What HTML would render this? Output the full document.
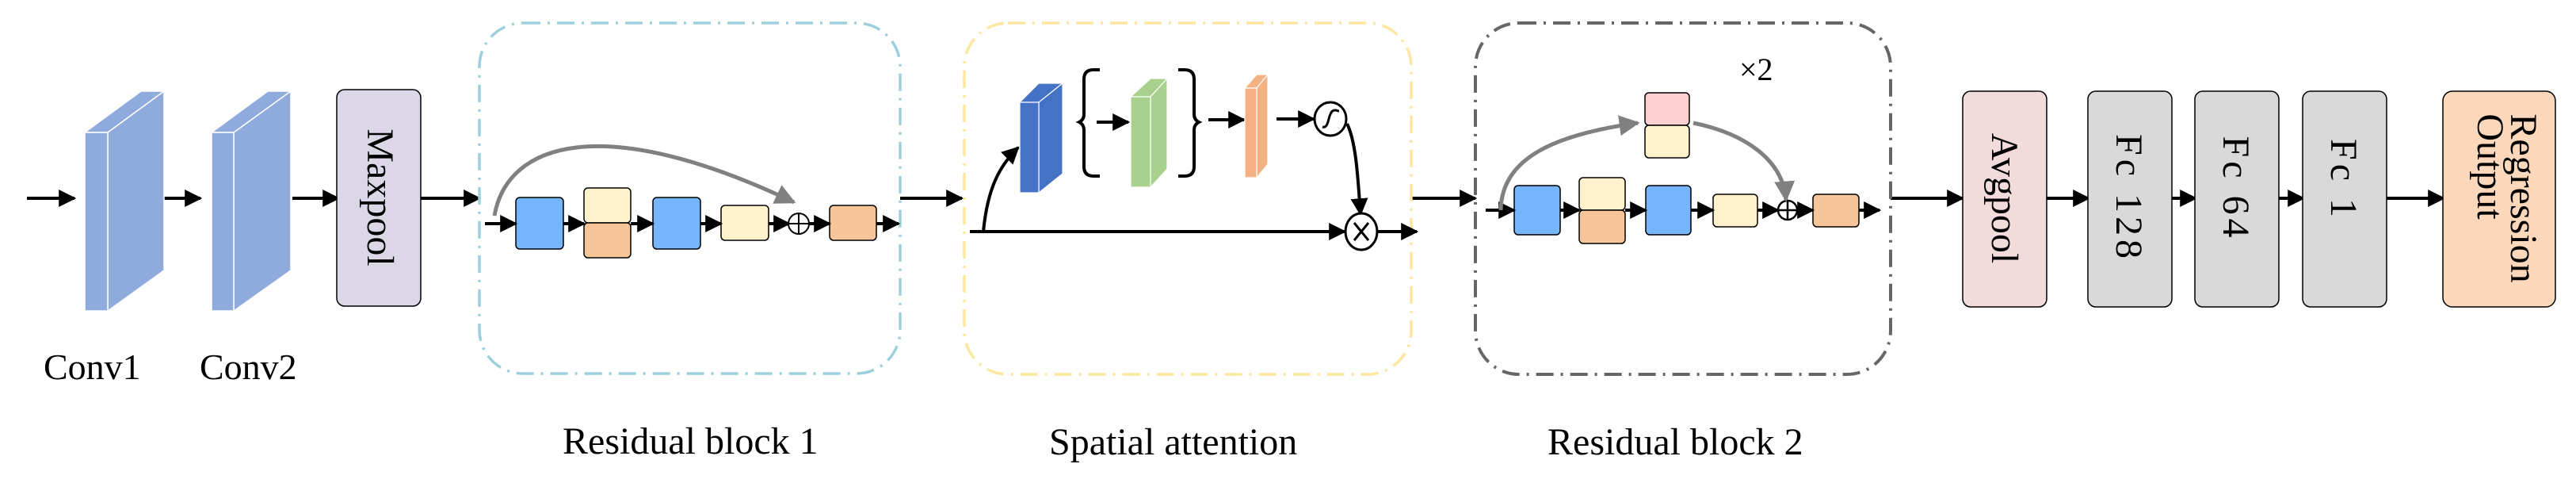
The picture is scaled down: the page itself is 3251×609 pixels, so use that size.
<!DOCTYPE html>
<html><head><meta charset="utf-8">
<style>
html,body{margin:0;padding:0;background:#fff;}
svg{display:block;}
text{font-family:"Liberation Serif",serif;fill:#000;}
</style></head>
<body>
<svg width="3251" height="609" viewBox="0 0 3251 609" xmlns="http://www.w3.org/2000/svg">
<defs>
<marker id="a" markerWidth="10" markerHeight="10" refX="8" refY="5" orient="auto" markerUnits="userSpaceOnUse" viewBox="0 0 10 10">
</marker>
<marker id="ah" viewBox="0 0 10 10" refX="9" refY="5" markerWidth="22" markerHeight="22" markerUnits="userSpaceOnUse" orient="auto"><path d="M0,0 L10,5 L0,10 z" fill="#000"/></marker>
<marker id="gh" viewBox="0 0 10 10" refX="9" refY="5" markerWidth="26" markerHeight="26" markerUnits="userSpaceOnUse" orient="auto"><path d="M0,0 L10,5 L0,10 z" fill="#808080"/></marker>
</defs>
<g stroke="#000" stroke-width="4" fill="none" marker-end="url(#ah)">
<line x1="34" y1="250" x2="94" y2="250"/>
<line x1="193" y1="250" x2="253" y2="250"/>
<line x1="369" y1="250" x2="427" y2="250"/>
<line x1="531" y1="250" x2="605" y2="250"/>
<line x1="1136" y1="250" x2="1214" y2="250"/>
<line x1="1781" y1="250" x2="1862" y2="250"/>
<line x1="2386" y1="250" x2="2477" y2="250"/>
<line x1="2583" y1="250" x2="2636" y2="250"/>
<line x1="2741" y1="250" x2="2771" y2="250"/>
<line x1="2876" y1="250" x2="2907" y2="250"/>
<line x1="3012" y1="250" x2="3084" y2="250"/>
</g>
<!-- Conv blocks -->
<g fill="#8faadc" stroke="#fff" stroke-width="1.5">
<polygon points="107,167 178,115 207,115 136,167"/>
<polygon points="136,167 207,115 207,341 136,392"/>
<rect x="107" y="167" width="29" height="225"/>
<polygon points="267,167 338,115 367,115 295,167"/>
<polygon points="295,167 367,115 367,341 295,392"/>
<rect x="267" y="167" width="28" height="225"/>
</g>
<rect x="425" y="113" width="106" height="273" rx="10" fill="#dcd7e6" stroke="#000" stroke-width="1.5"/>
<text transform="translate(464,249) rotate(90)" font-size="48" text-anchor="middle">Maxpool</text>
<text x="55" y="478" font-size="46">Conv1</text>
<text x="252" y="478" font-size="46">Conv2</text>
<!-- dashed boxes -->
<g fill="none" stroke-width="3.5" stroke-dasharray="22 9 3 9">
<rect x="605" y="29" width="531" height="442" rx="55" stroke="#9dd0dc"/>
<rect x="1217" y="29" width="564" height="443" rx="55" stroke="#fde6a0"/>
<rect x="1862" y="29" width="524" height="443" rx="55" stroke="#666" stroke-width="4"/>
</g>
<!-- Residual block 1 -->
<g stroke="#000" stroke-width="1.5">
<rect x="651" y="249" width="60" height="65" rx="5" fill="#74b5fb"/>
<rect x="737" y="237" width="59" height="44" rx="5" fill="#fff2cc"/>
<rect x="737" y="281" width="59" height="44" rx="5" fill="#f8c59a"/>
<rect x="824" y="249" width="60" height="65" rx="5" fill="#74b5fb"/>
<rect x="910" y="259" width="60" height="44" rx="5" fill="#fff2cc"/>
<rect x="1047" y="259" width="59" height="44" rx="5" fill="#f8c59a"/>
</g>
<g stroke="#000" stroke-width="4" fill="none" marker-end="url(#ah)">
<line x1="612" y1="282" x2="651" y2="282"/>
<line x1="711" y1="282" x2="737" y2="282"/>
<line x1="796" y1="282" x2="824" y2="282"/>
<line x1="884" y1="282" x2="910" y2="282"/>
<line x1="970" y1="282" x2="996" y2="282"/>
<line x1="1021" y1="282" x2="1047" y2="282"/>
<line x1="1106" y1="282" x2="1134" y2="282"/>
</g>
<circle cx="1008" cy="282" r="13" fill="#fff" stroke="#000" stroke-width="2"/>
<path d="M1008,270 V294 M996,282 H1020" stroke="#000" stroke-width="2"/>
<path d="M624,272 C640,180 760,140 1002,255" stroke="#808080" stroke-width="5" fill="none" marker-end="url(#gh)"/>
<text x="710" y="572" font-size="48">Residual block 1</text>
<!-- Spatial attention -->
<g stroke="#000" stroke-width="4" fill="none">
<line x1="1224" y1="292" x2="1697" y2="292" marker-end="url(#ah)"/>
<line x1="1739" y1="292" x2="1788" y2="292" marker-end="url(#ah)"/>
<path d="M1241,292 C1246,240 1260,210 1285,186" marker-end="url(#ah)"/>
<line x1="1384" y1="154" x2="1424" y2="154" marker-end="url(#ah)"/>
<line x1="1525" y1="151" x2="1570" y2="151" marker-end="url(#ah)"/>
<line x1="1611" y1="150" x2="1658" y2="150" marker-end="url(#ah)"/>
<path d="M1700,156 C1712,180 1714,230 1717,270" marker-end="url(#ah)"/>
<path d="M1388,88 H1380 Q1368,88 1368,100 V144 Q1368,151 1362,154 Q1368,157 1368,164 V210 Q1368,222 1380,222 H1388"/>
<path d="M1487,88 H1495 Q1507,88 1507,100 V144 Q1507,151 1513,154 Q1507,157 1507,164 V210 Q1507,222 1495,222 H1487"/>
</g>
<g stroke="#fff" stroke-width="1.2">
<polygon points="1287,129 1311,105 1341,105 1311,129" fill="#4472c4"/>
<polygon points="1311,129 1341,105 1341,219 1311,243" fill="#4472c4"/>
<rect x="1287" y="129" width="24" height="114" fill="#4472c4"/>
<polygon points="1427,122 1452,99 1473,99 1452,122" fill="#a9d18e"/>
<polygon points="1452,122 1473,99 1473,213 1452,236" fill="#a9d18e"/>
<rect x="1427" y="122" width="25" height="114" fill="#a9d18e"/>
<polygon points="1571,111 1586,94 1600,94 1586,111" fill="#f4b183"/>
<polygon points="1586,111 1600,94 1600,207 1586,224" fill="#f4b183"/>
<rect x="1571" y="111" width="15" height="113" fill="#f4b183"/>
</g>
<ellipse cx="1679" cy="150" rx="20" ry="21" fill="#fff" stroke="#000" stroke-width="3"/>
<path d="M1669,160 C1676,162 1676,150 1679,144 C1682,136 1688,140 1690,140" stroke="#000" stroke-width="3" fill="none"/>
<ellipse cx="1718" cy="292" rx="20" ry="23" fill="#fff" stroke="#000" stroke-width="3"/>
<path d="M1709,281 L1727,303 M1727,281 L1709,303" stroke="#000" stroke-width="3"/>
<text x="1324" y="573" font-size="48">Spatial attention</text>
<!-- Residual block 2 -->
<g stroke="#000" stroke-width="1.5">
<rect x="1911" y="234" width="58" height="62" rx="5" fill="#74b5fb"/>
<rect x="1993" y="224" width="58" height="41" rx="5" fill="#fff2cc"/>
<rect x="1993" y="265" width="58" height="42" rx="5" fill="#f8c59a"/>
<rect x="2077" y="234" width="57" height="62" rx="5" fill="#74b5fb"/>
<rect x="2162" y="245" width="56" height="41" rx="5" fill="#fff2cc"/>
<rect x="2288" y="245" width="58" height="41" rx="5" fill="#f8c59a"/>
<rect x="2076" y="117" width="56" height="41" rx="5" fill="#fdd0d0"/>
<rect x="2076" y="158" width="56" height="41" rx="5" fill="#fff2cc"/>
</g>
<g stroke="#000" stroke-width="4" fill="none" marker-end="url(#ah)">
<line x1="1875" y1="265" x2="1911" y2="265"/>
<line x1="1969" y1="265" x2="1993" y2="265"/>
<line x1="2051" y1="265" x2="2077" y2="265"/>
<line x1="2134" y1="265" x2="2162" y2="265"/>
<line x1="2218" y1="265" x2="2244" y2="265"/>
<line x1="2268" y1="265" x2="2288" y2="265"/>
<line x1="2346" y1="265" x2="2372" y2="265"/>
</g>
<circle cx="2256" cy="265" r="12" fill="#fff" stroke="#000" stroke-width="2.5"/>
<path d="M2256,254 V276 M2245,265 H2267" stroke="#000" stroke-width="2.5"/>
<path d="M1894,265 C1895,200 1960,170 2067,155" stroke="#808080" stroke-width="5" fill="none" marker-end="url(#gh)"/>
<path d="M2137,155 C2200,168 2250,200 2254,252" stroke="#808080" stroke-width="5" fill="none" marker-end="url(#gh)"/>
<text x="2195" y="101" font-size="40">×2</text>
<text x="1953" y="573" font-size="48">Residual block 2</text>
<!-- right side -->
<g stroke="#000" stroke-width="1.5">
<rect x="2477" y="115" width="106" height="272" rx="10" fill="#f2dcdb"/>
<rect x="2635" y="115" width="106" height="272" rx="10" fill="#d9d9d9"/>
<rect x="2770" y="115" width="106" height="272" rx="10" fill="#d9d9d9"/>
<rect x="2906" y="115" width="106" height="272" rx="10" fill="#d9d9d9"/>
<rect x="3083" y="115" width="142" height="272" rx="12" fill="#fbd8bb"/>
</g>
<text transform="translate(2514,250) rotate(90)" font-size="48" text-anchor="middle">Avgpool</text>
<text transform="translate(2671,250) rotate(90)" font-size="48" text-anchor="middle" letter-spacing="5">Fc 128</text>
<text transform="translate(2806,238) rotate(90)" font-size="48" text-anchor="middle" letter-spacing="5">Fc 64</text>
<text transform="translate(2942,227) rotate(90)" font-size="48" text-anchor="middle" letter-spacing="5">Fc 1</text>
<text transform="translate(3169,250) rotate(90)" font-size="48" text-anchor="middle">Regression</text>
<text transform="translate(3127,210) rotate(90)" font-size="48" text-anchor="middle">Output</text>
</svg>
</body></html>
